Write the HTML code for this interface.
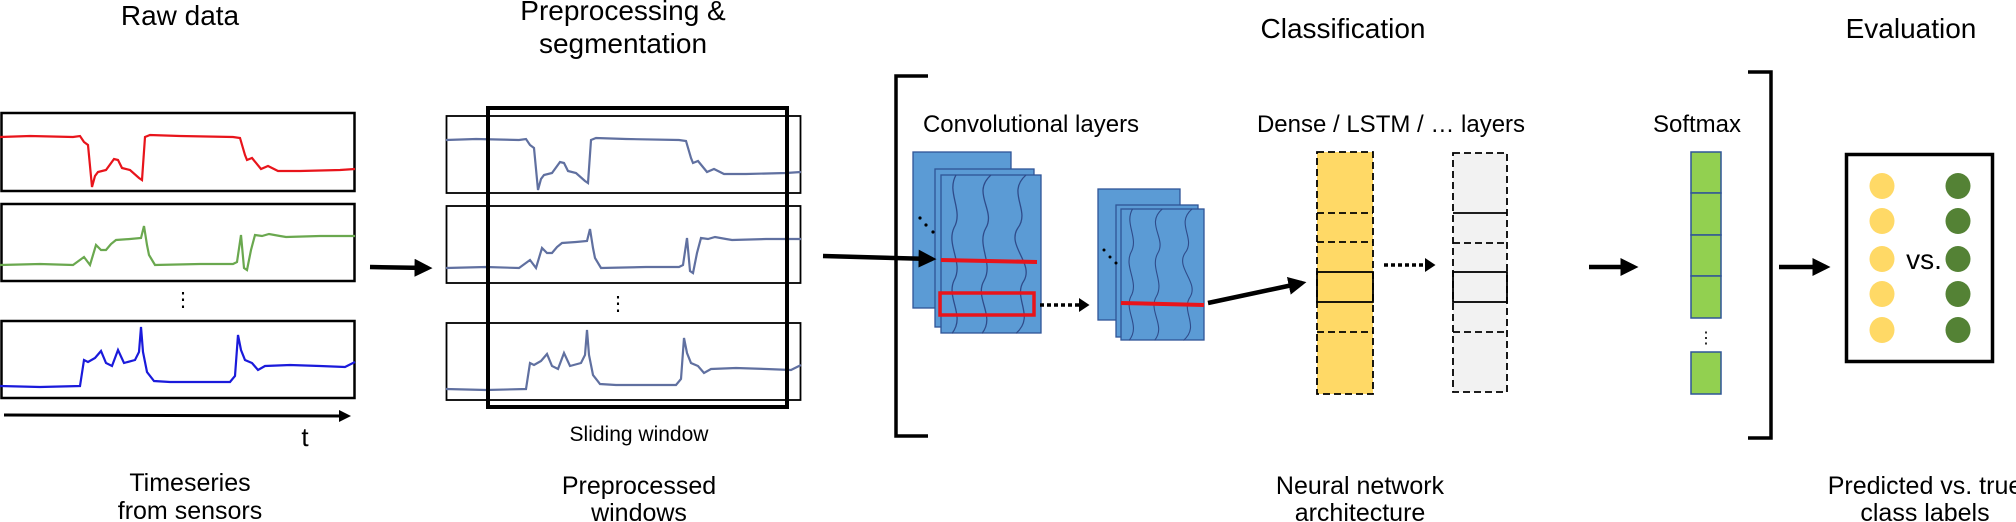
<!DOCTYPE html>
<html><head><meta charset="utf-8"><style>
html,body{margin:0;padding:0;background:#fff;}
svg{display:block;}
text{font-family:"Liberation Sans",sans-serif;fill:#000;}
</style></head><body>
<svg width="2016" height="522" viewBox="0 0 2016 522" xmlns="http://www.w3.org/2000/svg">
<defs>
<marker id="ah" markerWidth="4" markerHeight="4" refX="3" refY="2" orient="auto" markerUnits="strokeWidth"><path d="M0,0 L4,2 L0,4 z" fill="#000"/></marker>
<marker id="ah2" markerWidth="3" markerHeight="4" refX="2" refY="2" orient="auto" markerUnits="strokeWidth"><path d="M0,0 L3,2 L0,4 z" fill="#000"/></marker>
<g id="sigR"><polyline fill="none" stroke-width="2.2" points="0,137 30,136 73,137 80,136 84,142 88,145 92,187 95,176 98,172 106,170 114,159 118,160 122,168 130,170 139,178 142,180 145,137 150,135 180,136 233,137 240,138 245,155 247,160 252,158 261,169 268,166 278,171 300,171 340,170 355,169"/></g>
<g id="sigG"><polyline fill="none" stroke-width="2.2" points="0,265 40,264 73,265 84,257 90,265 96,245 101,250 106,250 111,244 116,240 130,239 141,238 144,226 147,245 149,255 155,265 200,264 233,264 237,262 241,235 244,268 247,270 251,250 255,235 262,236 269,234 280,236 286,237 320,236 355,236"/></g>
<g id="sigB"><polyline fill="none" stroke-width="2.2" points="0,386 40,387 80,386 84,360 88,362 95,358 101,351 106,363 112,366 118,350 124,363 135,360 139,352 141,327 143,352 147,372 154,381 170,382 230,382 235,376 238,335 241,350 245,360 252,363 258,370 265,366 290,365 320,366 345,367 355,362"/></g>
<g id="waves" fill="none" stroke="#2f4b8a" stroke-width="1.3">
<path d="M10,0 C0,20 18,40 8,60 C0,80 18,100 8,120 C0,140 20,160 6,180"/>
<path d="M45,0 C25,20 50,40 40,60 C30,80 48,100 38,120 C28,140 50,160 36,180"/>
<path d="M80,0 C60,20 85,40 72,60 C60,80 88,100 78,120 C66,140 90,160 70,180"/>
</g>
</defs>

<!-- Titles -->
<text x="180" y="25" font-size="28" text-anchor="middle">Raw data</text>
<text x="623" y="20" font-size="28" text-anchor="middle">Preprocessing &amp;</text>
<text x="623" y="53" font-size="28" text-anchor="middle">segmentation</text>
<text x="1343" y="38" font-size="28" text-anchor="middle">Classification</text>
<text x="1911" y="38" font-size="28" text-anchor="middle">Evaluation</text>

<!-- Raw data panels -->
<rect x="1.5" y="113" width="353" height="78" fill="none" stroke="#000" stroke-width="2.5"/>
<rect x="1.5" y="204" width="353" height="77" fill="none" stroke="#000" stroke-width="2.5"/>
<rect x="1.5" y="321" width="353" height="77" fill="none" stroke="#000" stroke-width="2.5"/>
<use href="#sigR" stroke="#e8141b"/>
<use href="#sigG" stroke="#6aa84f"/>
<use href="#sigB" stroke="#1a1adb"/>
<text x="183" y="306" font-size="20" text-anchor="middle">⋮</text>
<line x1="4" y1="415" x2="348" y2="416" stroke="#000" stroke-width="3" marker-end="url(#ah)"/>
<text x="305" y="446" font-size="26" text-anchor="middle">t</text>

<line x1="370" y1="267" x2="428" y2="268" stroke="#000" stroke-width="4.5" marker-end="url(#ah)"/>

<!-- Preprocessed panels -->
<rect x="446.5" y="116" width="354" height="77" fill="none" stroke="#000" stroke-width="1.8"/>
<rect x="446.5" y="206" width="354" height="77" fill="none" stroke="#000" stroke-width="1.8"/>
<rect x="446.5" y="323" width="354" height="77" fill="none" stroke="#000" stroke-width="1.8"/>
<g transform="translate(446,3)"><use href="#sigR" stroke="#6070a0"/><use href="#sigG" stroke="#6070a0"/><use href="#sigB" stroke="#6070a0"/></g>
<rect x="488" y="108" width="299" height="299" fill="none" stroke="#000" stroke-width="4"/>
<text x="618" y="310" font-size="20" text-anchor="middle">⋮</text>
<text x="639" y="441" font-size="21" text-anchor="middle">Sliding window</text>

<!-- Brackets -->
<path d="M928,76 L896,76 L896,436 L928,436" fill="none" stroke="#000" stroke-width="3.5"/>
<path d="M1748,72 L1771,72 L1771,438 L1748,438" fill="none" stroke="#000" stroke-width="3.5"/>

<!-- Convolutional -->
<text x="1031" y="132" font-size="24" text-anchor="middle">Convolutional layers</text>
<rect x="913" y="152" width="98" height="156" fill="#5b9bd5" stroke="#2f5597" stroke-width="1.3"/>
<rect x="935" y="169" width="99" height="158" fill="#5b9bd5" stroke="#2f5597" stroke-width="1.3"/>
<rect x="941" y="175" width="100" height="158" fill="#5b9bd5" stroke="#2f5597" stroke-width="1.3"/>
<g transform="translate(946,175) scale(1,0.88)"><use href="#waves"/></g>
<circle cx="920" cy="218" r="1.6"/><circle cx="926" cy="225" r="1.6"/><circle cx="933" cy="232" r="1.6"/>
<line x1="823" y1="256" x2="932" y2="259" stroke="#000" stroke-width="4.5" marker-end="url(#ah)"/>
<line x1="941" y1="260" x2="1037" y2="262" stroke="#e8141b" stroke-width="4"/>
<rect x="940" y="293" width="94" height="22" fill="none" stroke="#e8141b" stroke-width="3.5"/>
<line x1="1040" y1="305" x2="1086" y2="305" stroke="#000" stroke-width="3.5" stroke-dasharray="4,3" marker-end="url(#ah2)"/>

<rect x="1098" y="189" width="82" height="131" fill="#5b9bd5" stroke="#2f5597" stroke-width="1.3"/>
<rect x="1116" y="205" width="82" height="132" fill="#5b9bd5" stroke="#2f5597" stroke-width="1.3"/>
<rect x="1121" y="209" width="83" height="131" fill="#5b9bd5" stroke="#2f5597" stroke-width="1.3"/>
<g transform="translate(1124,209) scale(0.85,0.73)"><use href="#waves"/></g>
<circle cx="1104" cy="250" r="1.5"/><circle cx="1110" cy="257" r="1.5"/><circle cx="1116" cy="263" r="1.5"/>
<line x1="1121" y1="303" x2="1204" y2="305" stroke="#e8141b" stroke-width="4"/>
<line x1="1208" y1="303" x2="1302" y2="283" stroke="#000" stroke-width="4.5" marker-end="url(#ah)"/>

<!-- Dense -->
<text x="1391" y="132" font-size="24" text-anchor="middle">Dense / LSTM / … layers</text>
<rect x="1317" y="152" width="56" height="242" fill="#ffd966"/>
<rect x="1317" y="152" width="56" height="242" fill="none" stroke="#000" stroke-width="1.8" stroke-dasharray="7,4"/>
<line x1="1317" y1="213" x2="1373" y2="213" stroke="#000" stroke-width="1.8" stroke-dasharray="7,4"/>
<line x1="1317" y1="242" x2="1373" y2="242" stroke="#000" stroke-width="1.8" stroke-dasharray="7,4"/>
<rect x="1317" y="272" width="56" height="30" fill="none" stroke="#000" stroke-width="1.8"/>
<line x1="1317" y1="332" x2="1373" y2="332" stroke="#000" stroke-width="1.8" stroke-dasharray="7,4"/>

<line x1="1384" y1="265" x2="1432" y2="265" stroke="#000" stroke-width="3.5" stroke-dasharray="4,3" marker-end="url(#ah2)"/>

<rect x="1453" y="153" width="54" height="239" fill="#f2f2f2"/>
<rect x="1453" y="153" width="54" height="239" fill="none" stroke="#000" stroke-width="1.8" stroke-dasharray="7,4"/>
<line x1="1453" y1="213" x2="1507" y2="213" stroke="#000" stroke-width="1.8"/>
<line x1="1453" y1="243" x2="1507" y2="243" stroke="#000" stroke-width="1.8" stroke-dasharray="7,4"/>
<rect x="1453" y="272" width="54" height="30" fill="none" stroke="#000" stroke-width="1.8"/>
<line x1="1453" y1="332" x2="1507" y2="332" stroke="#000" stroke-width="1.8" stroke-dasharray="7,4"/>

<line x1="1589" y1="267" x2="1634" y2="267" stroke="#000" stroke-width="4.5" marker-end="url(#ah)"/>

<!-- Softmax -->
<text x="1697" y="132" font-size="24" text-anchor="middle">Softmax</text>
<g fill="#92d050" stroke="#2f5597" stroke-width="1.5">
<rect x="1691" y="152" width="30" height="41"/>
<rect x="1691" y="193" width="30" height="42"/>
<rect x="1691" y="235" width="30" height="41"/>
<rect x="1691" y="276" width="30" height="42"/>
<rect x="1691" y="352" width="30" height="42"/>
</g>
<text x="1706" y="343" font-size="16" text-anchor="middle">⋮</text>

<line x1="1779" y1="267" x2="1826" y2="267" stroke="#000" stroke-width="4.5" marker-end="url(#ah)"/>

<!-- Evaluation box -->
<rect x="1846.5" y="154.5" width="146" height="207" fill="none" stroke="#000" stroke-width="3.5"/>
<g fill="#ffd966">
<ellipse cx="1882" cy="186" rx="12.5" ry="13"/><ellipse cx="1882" cy="221" rx="12.5" ry="13"/><ellipse cx="1882" cy="259" rx="12.5" ry="13"/><ellipse cx="1882" cy="294" rx="12.5" ry="13"/><ellipse cx="1882" cy="330" rx="12.5" ry="13"/>
</g>
<g fill="#548235">
<ellipse cx="1958" cy="186" rx="12.5" ry="13"/><ellipse cx="1958" cy="221" rx="12.5" ry="13"/><ellipse cx="1958" cy="259" rx="12.5" ry="13"/><ellipse cx="1958" cy="294" rx="12.5" ry="13"/><ellipse cx="1958" cy="330" rx="12.5" ry="13"/>
</g>
<text x="1924" y="269" font-size="28" text-anchor="middle">vs.</text>

<!-- Bottom labels -->
<text x="190" y="491" font-size="25" text-anchor="middle">Timeseries</text>
<text x="190" y="519" font-size="25" text-anchor="middle">from sensors</text>
<text x="639" y="494" font-size="25" text-anchor="middle">Preprocessed</text>
<text x="639" y="521" font-size="25" text-anchor="middle">windows</text>
<text x="1360" y="494" font-size="25" text-anchor="middle">Neural network</text>
<text x="1360" y="521" font-size="25" text-anchor="middle">architecture</text>
<text x="1925" y="494" font-size="25" text-anchor="middle">Predicted vs. true</text>
<text x="1925" y="521" font-size="25" text-anchor="middle">class labels</text>
</svg>
</body></html>
